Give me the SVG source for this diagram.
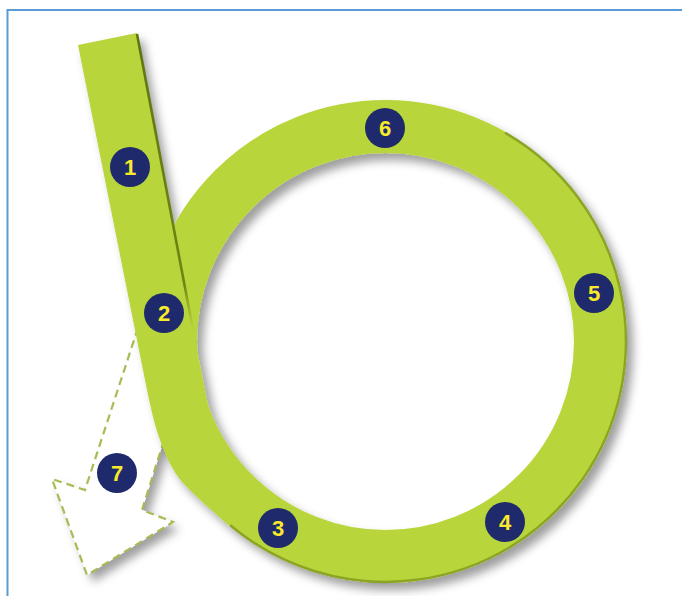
<svg xmlns="http://www.w3.org/2000/svg" width="682" height="596" viewBox="0 0 682 596">
  <defs>
    <style>
      .band{fill:#b8d53b}
      .ring{fill:none;stroke:#b8d53b;stroke-width:53}
      .badge circle{fill:#1f2a6c}
      .badge text{fill:#f8ea2a;font-family:"Liberation Sans",Arial,sans-serif;font-weight:700;font-size:22px;text-anchor:middle}
      .dash{fill:none;stroke:#a6bd55;stroke-width:2.2;stroke-dasharray:8 5;stroke-linejoin:miter}
      .edge{fill:none;stroke:#6d8614;stroke-width:2.5;stroke-linecap:round}
    </style>
    <filter id="shadow" x="-15%" y="-15%" width="135%" height="135%">
      <feGaussianBlur in="SourceAlpha" stdDeviation="5"/>
      <feOffset dx="6" dy="7" result="b"/>
      <feFlood flood-color="#000" flood-opacity="0.38"/>
      <feComposite in2="b" operator="in"/>
      <feMerge><feMergeNode/><feMergeNode in="SourceGraphic"/></feMerge>
    </filter>
    <linearGradient id="edgeFade" x1="0" y1="0" x2="0" y2="1">
      <stop offset="0" stop-color="#5f7610"/>
      <stop offset="0.85" stop-color="#6d8614"/>
      <stop offset="1" stop-color="#8aa51f" stop-opacity="0"/>
    </linearGradient>
  </defs>

  <rect x="0" y="0" width="682" height="596" fill="#ffffff"/>
  <path d="M7.5,596 V10 H682" fill="none" stroke="#5b9bd5" stroke-width="2"/>

  <g id="connectors">
    <g id="exit-arrow">
      <polygon points="150,330 135,337 85,490 52,479 87,575 173,522 142,510 163,443 180,430" fill="#ffffff" filter="url(#shadow)"/>
      <polyline class="dash" points="138,328 85,490 52,479 87,575 173,522 142,510 166,434"/>
    </g>
    <g id="loop-band" filter="url(#shadow)">
      <circle class="ring" cx="385.5" cy="341.5" r="215"/>
      <path class="band" d="M78,45 L137,33 L199,360 L215,440 L248,540 C227.5,525.8 194,495 182,482 C171.5,468.7 166.2,457 160,440 C153.8,423 149,400 145,380 Z"/>
    </g>
    <path class="edge" d="M505.8,133.2 A240.5,240.5 0 1 1 230.9,525.7" opacity="0.6"/>
    <line x1="137" y1="34" x2="193" y2="330" stroke="url(#edgeFade)" stroke-width="2.6"/>
  </g>

  <g id="n1" class="badge"><circle cx="130" cy="167" r="20"/><text x="130" y="175">1</text></g>
  <g id="n2" class="badge"><circle cx="164" cy="313" r="20"/><text x="164" y="321">2</text></g>
  <g id="n3" class="badge"><circle cx="278" cy="528" r="20"/><text x="278" y="536">3</text></g>
  <g id="n4" class="badge"><circle cx="505" cy="522" r="20"/><text x="505" y="530">4</text></g>
  <g id="n5" class="badge"><circle cx="594" cy="293" r="20"/><text x="594" y="301">5</text></g>
  <g id="n6" class="badge"><circle cx="385" cy="128" r="20"/><text x="385" y="136">6</text></g>
  <g id="n7" class="badge"><circle cx="117" cy="473" r="20"/><text x="117" y="481">7</text></g>
</svg>
